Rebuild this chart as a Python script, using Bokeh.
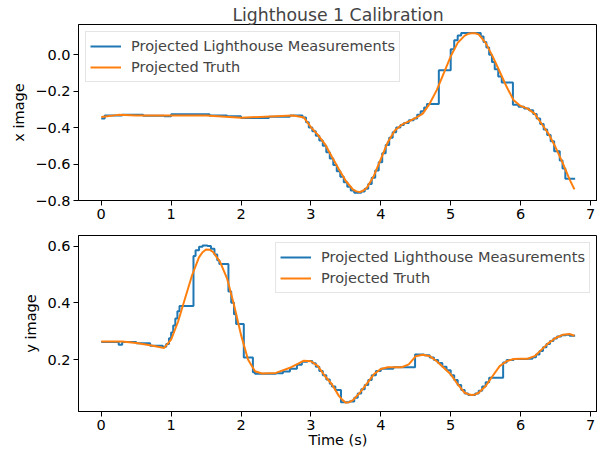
from bokeh.plotting import figure
from bokeh.layouts import column
from bokeh.models import FixedTicker, CustomJSTickFormatter, Range1d, Legend, LegendItem
from bokeh.embed import file_html
from bokeh.resources import INLINE

# ---- data ----
TITLE = "Lighthouse 1 Calibration"

# Projected truth, x image: (time, value)
truth_x_pts = [(0.0, -0.342), (0.25, -0.330), (0.5, -0.333), (1.0, -0.334), (1.5, -0.333), (2.0, -0.346),
               (2.5, -0.337), (2.75, -0.333), (2.9, -0.345), (3.0, -0.397), (3.1, -0.44), (3.2, -0.49),
               (3.3, -0.56), (3.4, -0.628), (3.5, -0.693), (3.6, -0.739), (3.65, -0.75), (3.7, -0.754),
               (3.75, -0.745), (3.8, -0.73), (3.9, -0.665), (4.0, -0.573), (4.1, -0.48), (4.2, -0.416),
               (4.3, -0.384), (4.4, -0.366), (4.5, -0.347), (4.6, -0.323), (4.7, -0.268), (4.8, -0.194),
               (4.9, -0.102), (5.0, -0.009), (5.1, 0.065), (5.2, 0.105), (5.25, 0.115), (5.3, 0.118),
               (5.35, 0.118), (5.4, 0.112), (5.5, 0.065), (5.6, -0.009), (5.7, -0.092), (5.8, -0.176),
               (5.9, -0.25), (6.0, -0.281), (6.1, -0.296), (6.2, -0.323), (6.3, -0.379), (6.4, -0.434),
               (6.5, -0.508), (6.6, -0.592), (6.7, -0.684), (6.77, -0.739)]

# Projected truth, y image
truth_y_pts = [(0.0, 0.264), (0.3, 0.264), (0.5, 0.258), (0.7, 0.25), (0.9, 0.241), (1.0, 0.27),
               (1.1, 0.334), (1.2, 0.416), (1.3, 0.497), (1.4, 0.561), (1.45, 0.578), (1.5, 0.588),
               (1.55, 0.587), (1.6, 0.579), (1.7, 0.544), (1.8, 0.486), (1.9, 0.392), (2.0, 0.287),
               (2.1, 0.2), (2.2, 0.159), (2.3, 0.151), (2.5, 0.153), (2.7, 0.171), (2.9, 0.196),
               (3.0, 0.194), (3.1, 0.177), (3.2, 0.142), (3.3, 0.113), (3.4, 0.072), (3.45, 0.058),
               (3.5, 0.048), (3.55, 0.05), (3.6, 0.057), (3.7, 0.083), (3.8, 0.115), (3.9, 0.148),
               (4.0, 0.167), (4.1, 0.173), (4.3, 0.173), (4.4, 0.183), (4.5, 0.212), (4.6, 0.217),
               (4.7, 0.212), (4.8, 0.194), (4.9, 0.171), (5.0, 0.148), (5.1, 0.113), (5.2, 0.083),
               (5.25, 0.078), (5.3, 0.075), (5.35, 0.077), (5.4, 0.083), (5.5, 0.107), (5.6, 0.142),
               (5.7, 0.177), (5.8, 0.194), (5.9, 0.202), (6.0, 0.203), (6.1, 0.203), (6.2, 0.212),
               (6.3, 0.235), (6.4, 0.258), (6.5, 0.276), (6.6, 0.287), (6.7, 0.29), (6.77, 0.284)]

# Projected lighthouse measurements (sample-and-hold), x image
meas_x_pts = [(0.0, -0.35), (0.05, -0.333), (0.3, -0.33), (0.6, -0.335), (0.9, -0.337), (1.0, -0.327),
              (1.55, -0.333), (1.8, -0.338), (2.0, -0.347), (2.4, -0.34), (2.7, -0.333), (2.88, -0.345),
              (2.93, -0.37), (2.97, -0.40), (3.02, -0.42), (3.07, -0.445), (3.12, -0.47), (3.17, -0.50),
              (3.22, -0.535), (3.27, -0.57), (3.32, -0.605), (3.37, -0.64), (3.42, -0.67), (3.47, -0.70),
              (3.52, -0.725), (3.57, -0.745), (3.62, -0.757), (3.72, -0.75), (3.77, -0.735), (3.82, -0.71),
              (3.87, -0.675), (3.92, -0.635), (3.97, -0.59), (4.02, -0.54), (4.07, -0.495), (4.12, -0.455),
              (4.17, -0.425), (4.22, -0.40), (4.28, -0.385), (4.33, -0.375), (4.4, -0.36), (4.47, -0.35),
              (4.52, -0.33), (4.57, -0.31), (4.62, -0.29), (4.66, -0.27), (4.83, -0.085), (5.0, 0.03),
              (5.05, 0.08), (5.1, 0.105), (5.15, 0.12), (5.43, 0.10), (5.47, 0.07), (5.51, 0.04),
              (5.55, 0.0), (5.59, -0.04), (5.63, -0.08), (5.68, -0.12), (5.73, -0.152), (5.89, -0.275),
              (5.97, -0.285), (6.05, -0.295), (6.12, -0.305), (6.18, -0.325), (6.23, -0.35), (6.28, -0.38),
              (6.33, -0.41), (6.38, -0.44), (6.43, -0.475), (6.48, -0.53), (6.56, -0.58), (6.6, -0.625),
              (6.64, -0.68), (6.78, -0.68)]

# Projected lighthouse measurements (sample-and-hold), y image
meas_y_pts = [(0.0, 0.262), (0.25, 0.252), (0.3, 0.262), (0.5, 0.257), (0.7, 0.249), (0.88, 0.245),
              (0.93, 0.255), (0.97, 0.275), (1.0, 0.295), (1.03, 0.32), (1.06, 0.345), (1.09, 0.37),
              (1.12, 0.389), (1.32, 0.565), (1.35, 0.585), (1.4, 0.597), (1.45, 0.602), (1.52, 0.60),
              (1.57, 0.59), (1.62, 0.57), (1.66, 0.55), (1.69, 0.537), (1.82, 0.44), (1.86, 0.40),
              (1.9, 0.36), (1.93, 0.325), (2.04, 0.207), (2.17, 0.155), (2.2, 0.15), (2.5, 0.152),
              (2.6, 0.158), (2.7, 0.168), (2.8, 0.182), (2.87, 0.192), (2.95, 0.195), (3.02, 0.187),
              (3.07, 0.175), (3.12, 0.16), (3.17, 0.145), (3.22, 0.13), (3.27, 0.115), (3.3, 0.105),
              (3.35, 0.093), (3.43, 0.05), (3.55, 0.052), (3.62, 0.065), (3.67, 0.08), (3.72, 0.095),
              (3.77, 0.11), (3.82, 0.128), (3.87, 0.145), (3.93, 0.16), (4.0, 0.168), (4.18, 0.173),
              (4.49, 0.218), (4.62, 0.215), (4.7, 0.207), (4.76, 0.198), (4.82, 0.188), (4.88, 0.175),
              (4.94, 0.162), (5.0, 0.145), (5.05, 0.128), (5.1, 0.11), (5.15, 0.093), (5.2, 0.08),
              (5.25, 0.075), (5.35, 0.08), (5.4, 0.09), (5.45, 0.105), (5.5, 0.12), (5.55, 0.136),
              (5.75, 0.19), (5.8, 0.198), (5.9, 0.202), (6.1, 0.203), (6.17, 0.208), (6.22, 0.218),
              (6.27, 0.23), (6.32, 0.243), (6.37, 0.255), (6.42, 0.265), (6.47, 0.274), (6.52, 0.281),
              (6.58, 0.286), (6.65, 0.287), (6.7, 0.284), (6.78, 0.284)]

x_ticks = [0, 1, 2, 3, 4, 5, 6, 7]
top_yticks = [-0.8, -0.6, -0.4, -0.2, 0.0]
bot_yticks = [0.2, 0.4, 0.6]

BLUE = "#1f77b4"
ORANGE = "#ff7f0e"
FONT = "DejaVu Sans"
FS = "14.5px"


def split(pts):
    return [a for a, _ in pts], [b for _, b in pts]


fmt = CustomJSTickFormatter(code="return tick.toFixed(1).replace('-', '\u2212');")


def style_axes(p):
    p.xgrid.visible = False
    p.ygrid.visible = False
    p.outline_line_color = "black"
    p.outline_line_width = 1
    for ax in (p.xaxis[0], p.yaxis[0]):
        ax.major_tick_in = 0
        ax.major_tick_out = 5
        ax.minor_tick_line_color = None
        ax.axis_line_color = "black"
        ax.major_tick_line_color = "black"
        ax.major_label_text_font = FONT
        ax.major_label_text_font_size = FS
        ax.major_label_text_color = "black"
        ax.major_label_standoff = 3
        ax.axis_label_text_font = FONT
        ax.axis_label_text_font_size = FS
        ax.axis_label_text_font_style = "normal"
        ax.axis_label_text_color = "black"
        ax.axis_label_standoff = 5
    p.xaxis[0].ticker = FixedTicker(ticks=x_ticks)
    p.xaxis[0].axis_label_standoff = -1


def make_legend(p, r1, r2, loc):
    leg = Legend(items=[LegendItem(label="Projected Lighthouse Measurements", renderers=[r1]),
                        LegendItem(label="Projected Truth", renderers=[r2])],
                 location=loc)
    leg.label_text_font = FONT
    leg.label_text_font_size = FS
    leg.glyph_width = 31
    leg.glyph_height = 20
    leg.label_height = 20
    leg.label_standoff = 10
    leg.spacing = 1
    leg.padding = 4
    leg.margin = 7
    leg.border_line_color = "#cccccc"
    leg.background_fill_alpha = 0.8
    p.add_layout(leg)


X0, X1 = -0.325, 7.1
p1 = figure(width=597, height=230, output_backend="svg", toolbar_location=None,
            x_range=Range1d(X0, X1), y_range=Range1d(-0.80, 0.166),
            min_border_left=78, min_border_right=0, min_border_top=24, min_border_bottom=30,
            title=TITLE)
p1.title.align = "center"
p1.title.text_font = FONT
p1.title.text_font_size = "17.3px"
p1.title.text_font_style = "normal"
p1.title.standoff = 0
if "text_line_height" in p1.title.properties():
    p1.title.text_line_height = 0.85
style_axes(p1)
p1.yaxis[0].ticker = FixedTicker(ticks=top_yticks)
p1.yaxis[0].formatter = fmt
p1.yaxis[0].axis_label = "x image"
mt, mv = split(meas_x_pts)
tt, tv = split(truth_x_pts)
r1 = p1.step(mt, mv, mode="after", line_color=BLUE, line_width=2)
r2 = p1.line(tt, tv, line_color=ORANGE, line_width=2)
make_legend(p1, r1, r2, "top_left")

p2 = figure(width=597, height=221, output_backend="svg", toolbar_location=None,
            x_range=Range1d(X0, X1), y_range=Range1d(0.017, 0.637),
            min_border_left=78, min_border_right=0, min_border_top=5, min_border_bottom=40)
style_axes(p2)
p2.yaxis[0].ticker = FixedTicker(ticks=bot_yticks)
p2.yaxis[0].formatter = fmt
p2.yaxis[0].axis_label = "y image"
p2.xaxis[0].axis_label = "Time (s)"
mt2, mv2 = split(meas_y_pts)
tt2, tv2 = split(truth_y_pts)
s1 = p2.step(mt2, mv2, mode="after", line_color=BLUE, line_width=2)
s2 = p2.line(tt2, tv2, line_color=ORANGE, line_width=2)
make_legend(p2, s1, s2, "top_right")

layout = column(p1, p2, spacing=0)
open("out.html", "w").write(file_html(layout, INLINE))
